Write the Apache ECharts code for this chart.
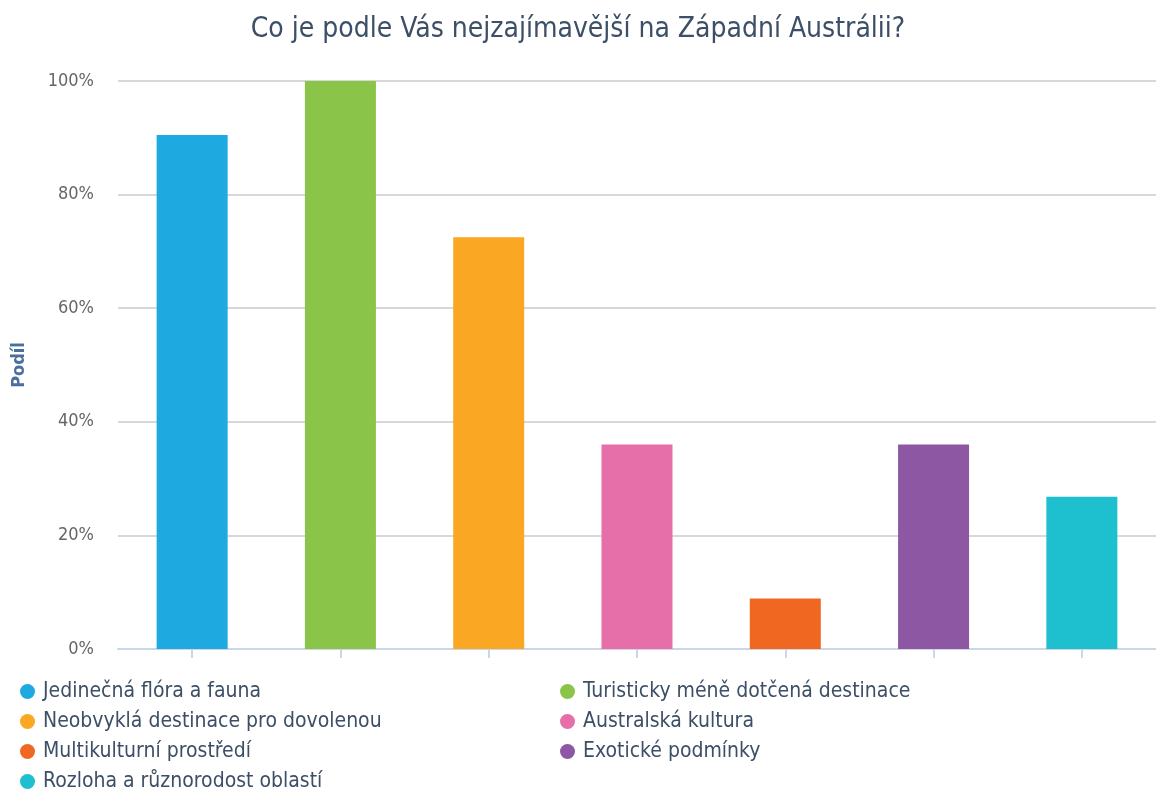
<!DOCTYPE html>
<html>
<head>
<meta charset="utf-8">
<title>Západní Austrálie</title>
<script src="https://cdn.jsdelivr.net/npm/echarts@6/dist/echarts.min.js"></script>
<style>
  html, body { margin: 0; padding: 0; background: #fff; }
  #chart { width: 1156px; height: 791px; }
</style>
</head>
<body>
<div id="chart"></div>
<script>
// data (share of respondents, %)
const categories = [
  'Jedinečná flóra a fauna',
  'Turisticky méně dotčená destinace',
  'Neobvyklá destinace pro dovolenou',
  'Australská kultura',
  'Multikulturní prostředí',
  'Exotické podmínky',
  'Rozloha a různorodost oblastí'
]
const shares = [90.5, 100, 72.5, 36, 8.9, 36, 26.8]
const colors = ['#1ea9e1', '#8ac449', '#faa723', '#e66faa', '#f06722', '#8d57a3', '#1ebfcf']
const yTicks = [0, 20, 40, 60, 80, 100]

const font = '"DejaVu Sans Condensed", "DejaVu Sans", sans-serif'
const chart = echarts.init(document.getElementById('chart'))

// one series per category so the legend shows every bar
const series = categories.map((name, i) => ({
  name: name,
  type: 'bar',
  stack: 'all',
  barWidth: 71,
  itemStyle: { color: colors[i] },
  data: categories.map((c, j) => (j === i ? shares[i] : null))
}))

const legendText = {
  fontFamily: font,
  fontSize: 21,
  color: '#3d4f66',
  padding: [0, 0, 0, 3]
}
const legendBase = {
  orient: 'vertical',
  top: 681,
  height: 130,
  padding: 0,
  icon: 'circle',
  itemWidth: 15,
  itemHeight: 15,
  itemGap: 9,
  selectedMode: false,
  textStyle: legendText
}

const option = {
  animation: false,
  color: colors,
  title: {
    text: 'Co je podle Vás nejzajímavější na Západní Austrálii?',
    left: 'center',
    top: 11,
    textStyle: { fontFamily: font, fontSize: 28, fontWeight: 'normal', color: '#3d4f66' }
  },
  legend: [
    Object.assign({}, legendBase, { left: 20, data: categories.filter((c, i) => i % 2 === 0) }),
    Object.assign({}, legendBase, { left: 560, data: categories.filter((c, i) => i % 2 === 1) })
  ],
  grid: {
    left: 118,
    right: 0,
    top: 81,
    height: 568
  },
  xAxis: {
    type: 'category',
    data: categories,
    axisLine: { lineStyle: { color: '#ccd6eb', width: 2 } },
    axisTick: {
      show: true,
      interval: 0,
      alignWithLabel: true,
      length: 9,
      lineStyle: { color: '#ccd6eb', width: 2 }
    },
    axisLabel: { show: false, interval: 0 }
  },
  yAxis: {
    type: 'value',
    min: yTicks[0],
    max: yTicks[yTicks.length - 1],
    interval: 20,
    name: 'Podíl',
    nameLocation: 'middle',
    nameGap: 90,
    nameTextStyle: { fontFamily: font, fontSize: 18, fontWeight: 'bold', color: '#4a6f9c' },
    axisLabel: {
      formatter: '{value}%',
      margin: 24,
      fontFamily: font,
      fontSize: 18,
      color: '#666666'
    },
    splitLine: { lineStyle: { color: '#d8d8d8', width: 2 } }
  },
  series: series
}

chart.setOption(option)
</script>
</body>
</html>
